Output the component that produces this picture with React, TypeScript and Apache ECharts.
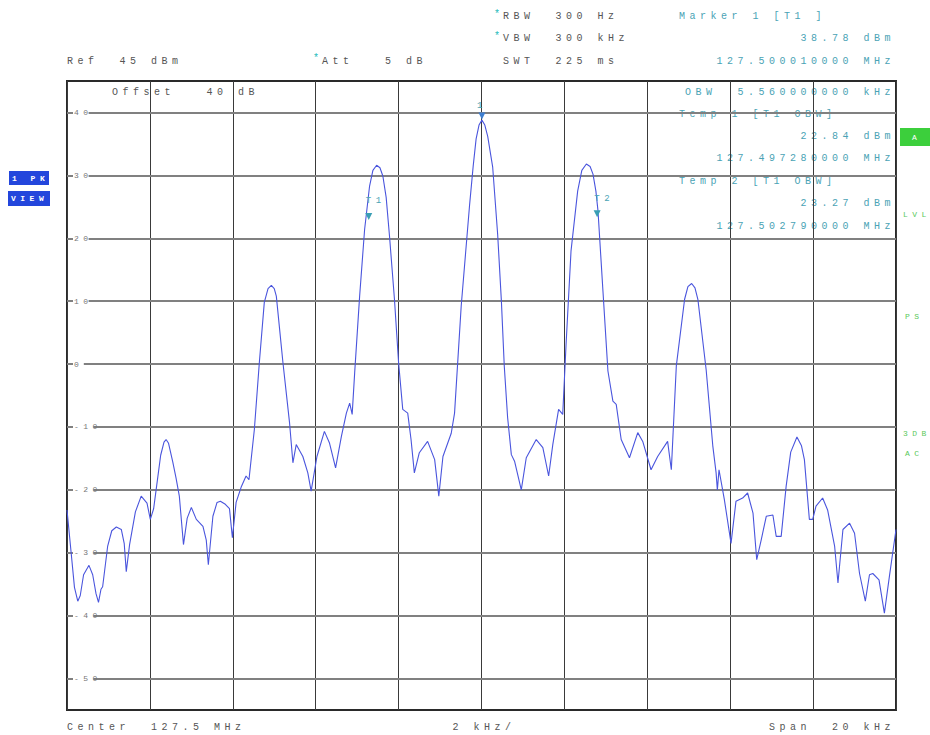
import React, { useEffect, useRef } from "react";
import * as echarts from "echarts";

// Trace: frequency offset from centre (kHz) and level (dBm)
const freqOffsetKHz = [
  -10.0, -9.9, -9.82, -9.74, -9.68, -9.6, -9.47, -9.38, -9.3, -9.24, -9.18, -9.14, -9.02, -8.92, -8.81, -8.69,
  -8.62, -8.57, -8.49, -8.35, -8.21, -8.07, -7.99, -7.91, -7.85, -7.74, -7.66, -7.61, -7.55, -7.45, -7.37, -7.29,
  -7.19, -7.1, -7.0, -6.88, -6.72, -6.64, -6.59, -6.48, -6.38, -6.3, -6.18, -6.08, -6.01, -5.92, -5.8, -5.68,
  -5.61, -5.48, -5.36, -5.24, -5.15, -5.07, -5.0, -4.95, -4.79, -4.63, -4.55, -4.47, -4.31, -4.19, -4.11, -3.97,
  -3.79, -3.67, -3.52, -3.38, -3.26, -3.18, -3.12, -3.06, -2.94, -2.82, -2.7, -2.62, -2.53, -2.45, -2.38, -2.3,
  -2.22, -2.1, -2.0, -1.9, -1.78, -1.7, -1.62, -1.5, -1.3, -1.13, -1.03, -0.93, -0.73, -0.65, -0.49, -0.29,
  -0.2, -0.13, -0.06, 0.01, 0.08, 0.15, 0.27, 0.39, 0.48, 0.55, 0.63, 0.72, 0.8, 0.96, 1.08, 1.32,
  1.48, 1.62, 1.72, 1.86, 1.96, 2.04, 2.16, 2.32, 2.42, 2.53, 2.62, 2.69, 2.76, 2.81, 2.93, 3.05,
  3.17, 3.25, 3.37, 3.57, 3.77, 3.89, 4.09, 4.25, 4.49, 4.58, 4.7, 4.9, 4.98, 5.07, 5.15, 5.22,
  5.42, 5.58, 5.66, 5.69, 5.73, 5.86, 6.02, 6.14, 6.3, 6.42, 6.55, 6.64, 6.75, 6.87, 7.03, 7.11,
  7.23, 7.35, 7.46, 7.61, 7.72, 7.79, 7.91, 7.99, 8.07, 8.23, 8.35, 8.52, 8.6, 8.72, 8.88, 9.0,
  9.12, 9.26, 9.36, 9.44, 9.59, 9.72, 9.84, 10.0,
];
const levelDbm = [
  -23.2, -30.0, -35.5, -37.7, -36.8, -33.5, -32.0, -33.5, -36.5, -37.9, -35.8, -35.4, -29.0, -26.5, -25.9, -26.3,
  -28.5, -33.0, -28.7, -23.5, -21.0, -22.1, -24.7, -23.0, -20.0, -14.5, -12.4, -12.0, -12.6, -15.5, -18.1, -21.0,
  -28.7, -24.5, -22.8, -24.7, -25.8, -28.0, -31.9, -24.2, -22.0, -21.8, -22.3, -23.0, -27.6, -22.0, -19.6, -17.8,
  -18.4, -10.4, 0.2, 9.8, 12.0, 12.5, 12.0, 10.8, 0.2, -9.4, -15.7, -12.8, -14.7, -17.3, -20.2, -14.7,
  -10.7, -12.5, -16.5, -11.5, -7.8, -6.2, -8.0, -1.4, 10.8, 21.4, 28.3, 30.8, 31.6, 31.2, 29.9, 26.5,
  20.4, 10.3, 0.2, -7.2, -7.8, -12.0, -17.3, -14.1, -12.3, -15.2, -21.0, -14.7, -11.0, -7.8, 9.2, 25.1,
  31.5, 35.8, 38.0, 38.78, 38.0, 36.2, 31.3, 20.6, 10.0, -0.4, -8.5, -14.4, -15.5, -20.0, -14.9, -12.0,
  -13.3, -17.8, -12.8, -7.2, -8.0, 3.1, 18.0, 27.5, 30.8, 31.8, 31.4, 30.2, 27.5, 24.4, 11.6, -1.1,
  -5.9, -6.4, -12.0, -14.9, -10.9, -12.3, -16.8, -14.7, -12.3, -16.8, -0.3, 10.3, 12.3, 12.8, 12.1, 10.3,
  -0.9, -13.0, -17.3, -20.0, -16.8, -21.6, -28.5, -21.8, -21.3, -20.5, -23.7, -31.1, -27.9, -24.2, -24.0, -27.4,
  -27.4, -19.4, -14.0, -11.6, -13.0, -15.2, -24.7, -24.7, -22.6, -21.3, -23.2, -29.0, -34.8, -26.3, -25.3, -26.9,
  -33.3, -37.7, -33.5, -33.3, -34.3, -39.6, -33.8, -26.3,
];

// Horizontal graticule levels (dBm) with their labels
const gridLevels = [40, 30, 20, 10, 0, -10, -20, -30, -40, -50];

// Markers: name, frequency offset (kHz), level (dBm)
const markerNames = ["1", "T1", "T2"];
const markerOffsetKHz = [0.01, -2.72, 2.79];
const markerLevelDbm = [38.78, 22.84, 23.27];

const MONO = "'Liberation Mono', 'DejaVu Sans Mono', monospace";
const INK = "#555";
const TEAL = "#4aa3b5";
const GREEN = "#5cc95c";

function txt(text: string, x: number, y: number, fill: string, align: string = "left", size = 10) {
  return {
    type: "text",
    x,
    y,
    silent: true,
    style: {
      text,
      fill,
      font: `${size}px ${MONO}`,
      textAlign: align,
      textVerticalAlign: "middle",
    },
  };
}

function box(text: string, x: number, y: number, w: number, h: number, fill: string) {
  return {
    type: "group",
    x,
    y,
    silent: true,
    children: [
      { type: "rect", shape: { x: 0, y: 0, width: w, height: h }, style: { fill } },
      {
        type: "text",
        x: 3,
        y: h / 2,
        style: { text, fill: "#fff", font: `bold 8px ${MONO}`, textVerticalAlign: "middle" },
      },
    ],
  };
}

export default function App() {
  const ref = useRef<HTMLDivElement>(null);

  useEffect(() => {
    if (!ref.current) return;
    const chart = echarts.init(ref.current, null, { renderer: "svg" });

    const trace = freqOffsetKHz.map((f, i) => [f, levelDbm[i]]);
    const markers = markerNames.map((name, i) => ({
      name,
      coord: [markerOffsetKHz[i], markerLevelDbm[i]],
      itemStyle: { color: i === 0 ? "#3f7fd0" : "#3a9fb5" },
      label: i === 0 ? { offset: [0, 0] } : { offset: [7, -5] },
    }));

    chart.setOption({
      animation: false,
      backgroundColor: "#fff",
      grid: {
        left: 67,
        right: 34,
        top: 81,
        bottom: 25,
        show: true,
        borderColor: "#2a2a2a",
        borderWidth: 2,
        backgroundColor: "transparent",
      },
      xAxis: {
        type: "value",
        min: -10,
        max: 10,
        interval: 2,
        axisLine: { show: false },
        axisTick: { show: false },
        axisLabel: { show: false },
        splitLine: { show: true, lineStyle: { color: "#3a3a3a", width: 1 } },
      },
      yAxis: {
        type: "value",
        min: -55,
        max: 45,
        interval: 5,
        z: 5,
        axisLine: { show: false },
        axisTick: { show: false },
        splitLine: { show: false },
        axisLabel: {
          inside: true,
          margin: 6,
          color: "#777",
          fontFamily: MONO,
          fontSize: 8,
          backgroundColor: "#fff",
          padding: [0, 5, 0, 1],
          formatter: (v: number) => (gridLevels.indexOf(v) >= 0 ? String(v) : ""),
        },
      },
      series: [
        {
          type: "line",
          data: trace,
          showSymbol: false,
          lineStyle: { color: "#4a55dd", width: 1.1 },
          z: 3,
          markLine: {
            silent: true,
            symbol: "none",
            label: { show: false },
            lineStyle: { color: "#808080", width: 1.8, type: "solid" },
            data: gridLevels.map((v) => ({ yAxis: v })),
            z: 1,
          },
          markPoint: {
            symbol: "triangle",
            symbolRotate: 180,
            symbolSize: [7, 7],
            symbolOffset: [0, -4],
            label: {
              show: true,
              position: "top",
              distance: 2,
              color: TEAL,
              fontFamily: MONO,
              fontSize: 9,
              formatter: (p: any) => p.name,
            },
            data: markers,
          },
        },
      ],
      graphic: [
        // header, left
        txt("Ref  45 dBm", 67, 61, INK),
        txt("*", 313, 58, "#2bb", "left"),
        txt("Att   5 dB", 322, 61, INK),
        // header, sweep settings
        txt("*", 494, 14, "#2bb"),
        txt("RBW  300 Hz", 503, 16, INK),
        txt("*", 494, 36, "#2bb"),
        txt("VBW  300 kHz", 503, 38, INK),
        txt("SWT  225 ms", 503, 61, INK),
        // marker readout
        txt("Marker 1 [T1 ]", 679, 16, TEAL),
        txt("38.78 dBm", 895, 38, TEAL, "right"),
        txt("127.500010000 MHz", 895, 61, TEAL, "right"),
        txt("OBW  5.560000000 kHz", 895, 92, TEAL, "right"),
        txt("Temp 1 [T1 OBW]", 679, 114, TEAL),
        txt("22.84 dBm", 895, 136, TEAL, "right"),
        txt("127.497280000 MHz", 895, 158, TEAL, "right"),
        txt("Temp 2 [T1 OBW]", 679, 181, TEAL),
        txt("23.27 dBm", 895, 203, TEAL, "right"),
        txt("127.502790000 MHz", 895, 226, TEAL, "right"),
        // in-plot note
        txt("Offset   40 dB", 112, 92, INK),
        // footer
        txt("Center  127.5 MHz", 67, 727, INK),
        txt("2 kHz/", 484, 727, INK, "center"),
        txt("Span  20 kHz", 895, 727, INK, "right"),
        // trace / detector boxes on the left
        box("1 PK", 9, 171, 40, 14, "#2346dc"),
        box("VIEW", 8, 191, 42, 15, "#2346dc"),
        // status flags on the right
        { type: "rect", silent: true, shape: { x: 900, y: 128, width: 30, height: 18 }, style: { fill: "#3ccf3c" } },
        txt("A", 912, 137, "#fff", "left", 8),
        txt("LVL", 903, 214, GREEN, "left", 8),
        txt("PS", 905, 316, GREEN, "left", 8),
        txt("3DB", 903, 433, GREEN, "left", 8),
        txt("AC", 905, 453, GREEN, "left", 8),
      ],
    });

    return () => chart.dispose();
  }, []);

  return (
    <div
      ref={ref}
      style={{
        position: "fixed",
        left: 0,
        top: 0,
        width: 930,
        height: 735,
        letterSpacing: "4.5px",
        background: "#fff",
      }}
    />
  );
}
